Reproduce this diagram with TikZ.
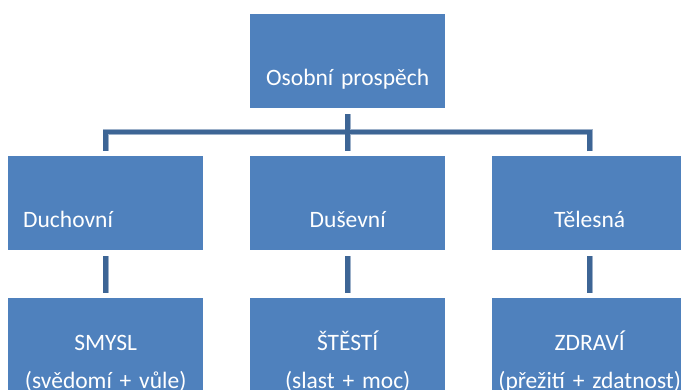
\documentclass[tikz,border=0pt]{standalone}
\usepackage{fontspec}
\setmainfont{Carlito}
\usepackage{tikz}
\usetikzlibrary{positioning}
\definecolor{boxblue}{HTML}{4F81BD}
\definecolor{linkdark}{HTML}{3D6595}
\definecolor{linklight}{HTML}{9CB0C9}

\begin{document}
\begin{tikzpicture}
  [
    x=1pt, y=-1pt,
    Box/.style={rectangle, fill=boxblue, text=white, inner sep=0pt, anchor=north west,
      text width=195pt, align=center, text height=71pt, text depth=23pt,
      font=\fontsize{23.5}{38}\selectfont},
    LeftBox/.style={Box, inner xsep=15pt, text width=165pt, align=left},
    LowBox/.style={Box, text height=52pt, text depth=68pt},
    LinkBack/.style={draw=linklight, line width=6pt, line join=miter, xshift=-1pt, yshift=1pt},
    Link/.style={draw=linkdark, line width=4.5pt, line join=miter}
  ]
  \useasboundingbox (0, 0) rectangle (681, 389);
  \clip (0, 0) rectangle (681, 389);
  % Nodes
  \node[Box] (osob) at (250, 14) {Osobní prospěch};
  \node[LeftBox] (duch) at (8, 156) {Duchovní};
  \node[Box] (dusev) at (250, 156) {Duševní};
  \node[Box] (tel) at (492, 156) {Tělesná};
  \node[LowBox] (smysl) at (8, 298) {SMYSL\\(svědomí + vůle)};
  \node[LowBox] (stesti) at (250, 298) {ŠTĚSTÍ\\(slast + moc)};
  \node[LowBox] (zdravi) at (492, 298) {ZDRAVÍ\\(přežití + zdatnost)};
  \coordinate (bar) at (0, 132);
  % Lines
  \foreach \s in {LinkBack, Link} {
    \path [\s, shorten <=6pt, shorten >=5pt] (osob.south) -- (dusev.north);
    \path [\s, shorten <=5pt, shorten >=5pt] (tel.north) -- (tel.north |- bar)
      -- (duch.north |- bar) -- (duch.north);
    \path [\s, shorten <=6pt, shorten >=5pt] (duch.south) -- (smysl.north);
    \path [\s, shorten <=6pt, shorten >=5pt] (dusev.south) -- (stesti.north);
    \path [\s, shorten <=6pt, shorten >=5pt] (tel.south) -- (zdravi.north);
  }
\end{tikzpicture}
\end{document}
